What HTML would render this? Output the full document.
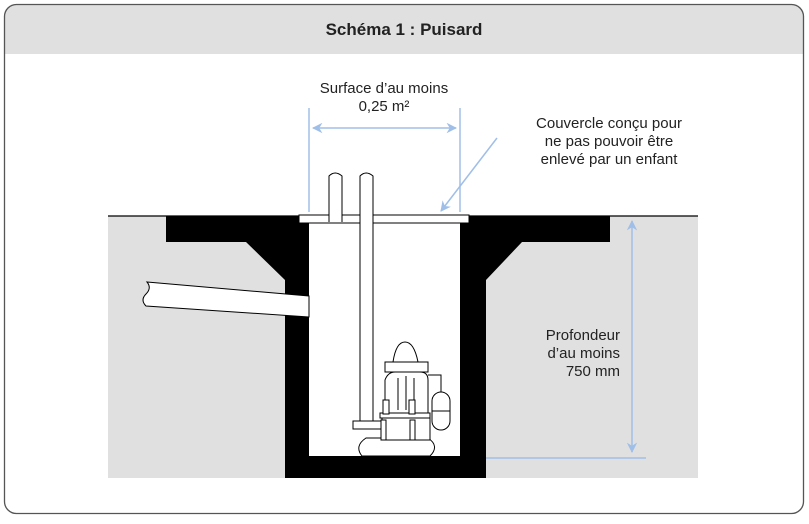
<!DOCTYPE html>
<html><head><style>
body{margin:0;width:809px;height:519px;background:#fff;font-family:"Liberation Sans",sans-serif;}
</style></head><body>
<svg width="809" height="519" viewBox="0 0 809 519" xmlns="http://www.w3.org/2000/svg" font-family="Liberation Sans, sans-serif">
<defs>
<clipPath id="c"><rect x="4" y="4" width="800" height="510" rx="12"/></clipPath>
<marker id="a" viewBox="0 0 10 10" refX="9" refY="5" markerWidth="7" markerHeight="7" orient="auto-start-reverse"><path d="M0,0 L10,5 L0,10 L3,5z" fill="#a0bfe8"/></marker>
</defs>
<g clip-path="url(#c)">
<rect x="4" y="4" width="800" height="50" fill="#e0e0e0"/>
</g>
<rect x="4.5" y="4.5" width="799" height="509" rx="12" fill="none" stroke="#555" stroke-width="1.3"/>
<text x="404" y="35" text-anchor="middle" font-size="17" font-weight="bold" fill="#222">Schéma 1 : Puisard</text>
<rect x="108" y="216" width="590" height="262" fill="#e0e0e0"/>
<line x1="108" y1="216" x2="698" y2="216" stroke="#000" stroke-width="1.2"/>
<path d="M166,216 H610 V242 H522 L486,280 V478 H285 V280 L246,242 H166 Z" fill="#000"/>
<rect x="309" y="222" width="151" height="234" fill="#fff"/>
<path d="M147,282 L309,296 L309,317 L146,306 Q140,300 146,294 Q152,288 147,282Z" fill="#fff" stroke="#000" stroke-width="1"/>
<rect x="299" y="215" width="170" height="8" fill="#fff" stroke="#000" stroke-width="1"/>
<path d="M329,222 V176 Q335,170 342,176 V222" fill="#fff" stroke="#000" stroke-width="1"/>
<path d="M360,426 V176 Q366,170 373,176 V426" fill="#fff" stroke="#000" stroke-width="1"/>
<g fill="#fff" stroke="#000" stroke-width="1">
<path d="M362,456 Q354,446 366,438 H428 Q440,446 430,456Z"/>
<rect x="382" y="416" width="48" height="24"/>
<rect x="353" y="421" width="30" height="8"/>
<rect x="380" y="413" width="50" height="5"/>
<path d="M385,413 V380 Q388,372 395,372 H420 Q428,372 428,380 V413Z"/>
<rect x="385" y="362" width="43" height="10"/>
<path d="M393,362 Q396,342 405,342 Q414,342 418,362Z"/>
<line x1="398" y1="378" x2="398" y2="410"/><line x1="406" y1="376" x2="406" y2="410"/><line x1="414" y1="378" x2="414" y2="410"/>
<rect x="383" y="400" width="6" height="14"/><rect x="409" y="400" width="6" height="14"/>
<rect x="381" y="420" width="5" height="20"/><rect x="410" y="420" width="5" height="20"/>
<polyline points="428,375 441,375 441,392" fill="none"/>
<rect x="432" y="392" width="18" height="38" rx="9"/>
<line x1="432" y1="411" x2="450" y2="411"/>
</g>
<g stroke="#a0bfe8" stroke-width="1.5" fill="none">
<line x1="309" y1="108" x2="309" y2="212"/>
<line x1="460" y1="108" x2="460" y2="212"/>
<line x1="313" y1="128" x2="456" y2="128" marker-start="url(#a)" marker-end="url(#a)"/>
<line x1="497" y1="138" x2="441" y2="211" marker-end="url(#a)"/>
<line x1="632" y1="221" x2="632" y2="452" marker-start="url(#a)" marker-end="url(#a)"/>
<line x1="486" y1="458" x2="646" y2="458"/>
</g>
<g font-size="15" fill="#222">
<text x="384" y="93" text-anchor="middle">Surface d’au moins</text>
<text x="384" y="111" text-anchor="middle">0,25 m²</text>
<text x="609" y="128" text-anchor="middle">Couvercle conçu pour</text>
<text x="609" y="146" text-anchor="middle">ne pas pouvoir être</text>
<text x="609" y="164" text-anchor="middle">enlevé par un enfant</text>
<text x="620" y="340" text-anchor="end">Profondeur</text>
<text x="620" y="358" text-anchor="end">d’au moins</text>
<text x="620" y="376" text-anchor="end">750 mm</text>
</g>
</svg>
</body></html>
